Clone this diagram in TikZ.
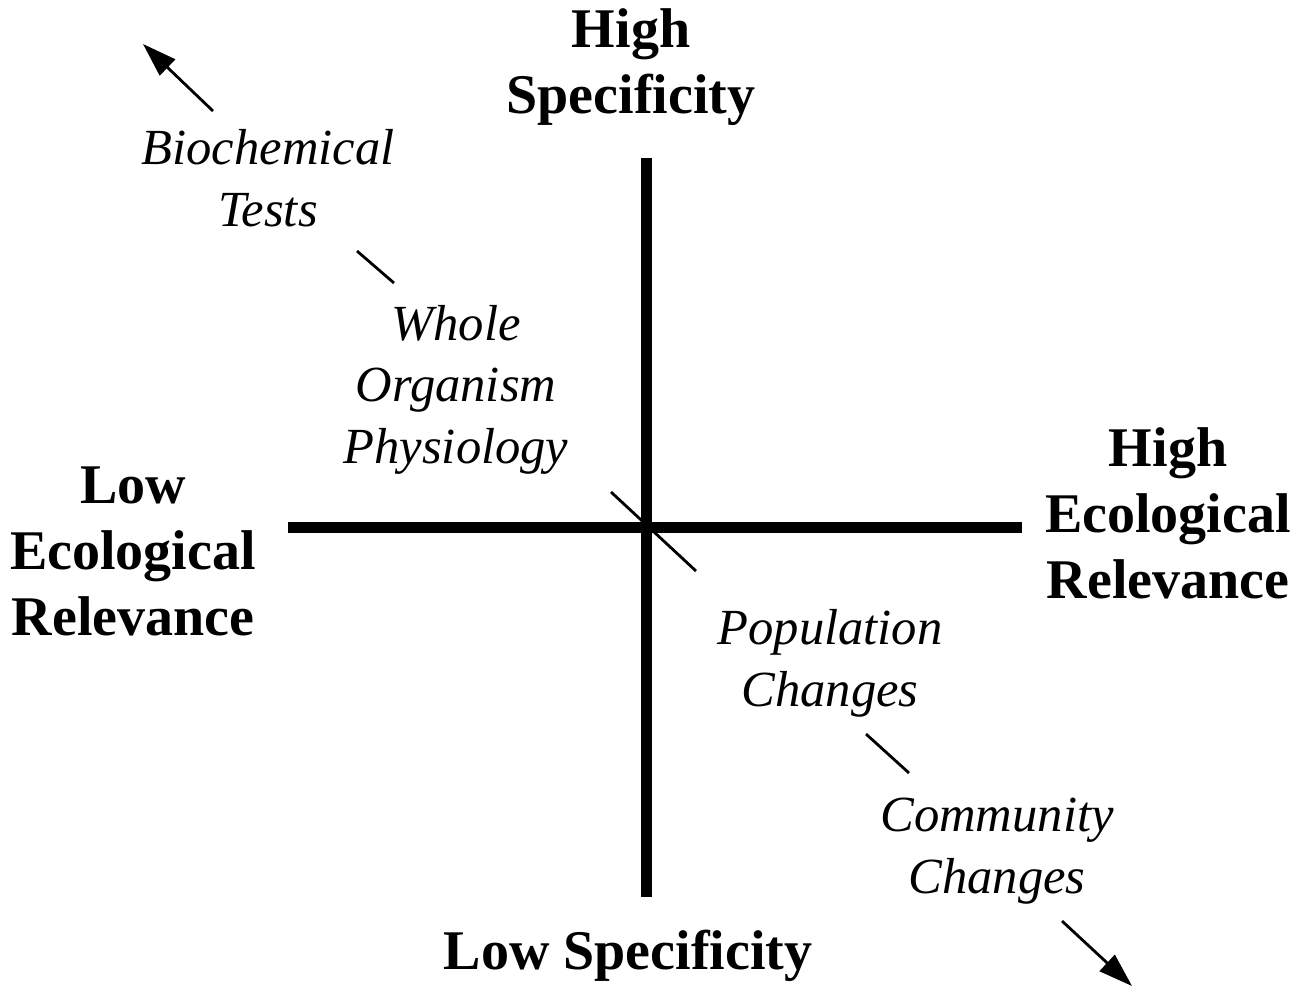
\documentclass[tikz,border=0pt]{standalone}
\usepackage{fontspec}
\setmainfont{Liberation Serif}
\usetikzlibrary{arrows.meta}
\begin{document}
\begin{tikzpicture}[x=0.5pt,y=-0.5pt,
  axislbl/.style={font=\fontsize{28pt}{33pt}\selectfont\bfseries, align=center, inner sep=0pt, anchor=base},
  itemlbl/.style={font=\fontsize{25.3pt}{30.75pt}\selectfont\itshape, align=center, inner sep=0pt, anchor=base},
  axisline/.style={line width=5.5pt},
  tick/.style={line width=1.4pt},
  dirarrow/.style={line width=1.4pt, -{Triangle[length=17pt,width=11pt]}}]
\useasboundingbox (0,0) rectangle (1300,987);
% axes
\coordinate (vtop) at (646,158);
\coordinate (vbot) at (646,897);
\coordinate (hl) at (288,527);
\coordinate (hr) at (1022,527);
\draw[axisline] (vtop) -- (vbot);
\draw[axisline] (hl) -- (hr);
% axis labels (anchored at baseline of last line)
\node[axislbl] (hs) at (631,113) {High\\Specificity};
\node[axislbl] (ls) at (628,969) {Low Specificity};
\node[axislbl] (ler) at (133,635) {Low\\Ecological\\Relevance};
\node[axislbl] (her) at (1168,598) {High\\Ecological\\Relevance};
% item labels
\node[itemlbl] (bio) at (268,226) {Biochemical\\Tests};
\node[itemlbl] (who) at (456,463) {Whole\\Organism\\Physiology};
\node[itemlbl] (pop) at (830,706) {Population\\Changes};
\node[itemlbl] (com) at (997,893) {Community\\Changes};
% diagonal ticks
\coordinate (t1a) at (357,251); \coordinate (t1b) at (394,283);
\coordinate (t2a) at (611,492); \coordinate (t2b) at (696,571);
\coordinate (t3a) at (866,734); \coordinate (t3b) at (909,773);
\draw[tick] (t1a) -- (t1b);
\draw[tick] (t2a) -- (t2b);
\draw[tick] (t3a) -- (t3b);
% direction arrows
\coordinate (a1s) at (213,111); \coordinate (a1e) at (143,44);
\coordinate (a2s) at (1062,921); \coordinate (a2e) at (1132,986);
\draw[dirarrow] (a1s) -- (a1e);
\draw[dirarrow] (a2s) -- (a2e);
\end{tikzpicture}
\end{document}
